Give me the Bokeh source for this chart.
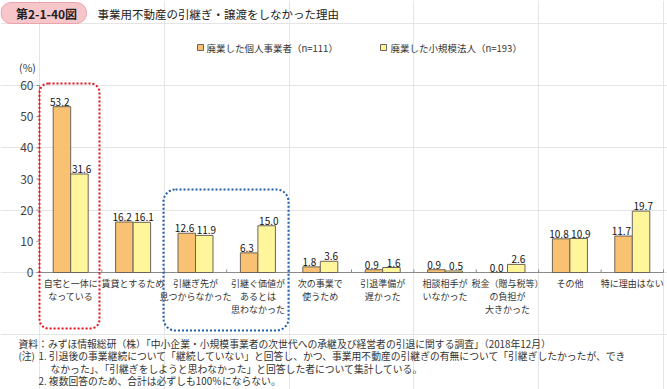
from bokeh.plotting import figure
from bokeh.models import Range1d, BoxAnnotation, ColumnDataSource
from bokeh.transform import dodge
from bokeh.core.properties import value
from bokeh.embed import file_html
from bokeh.resources import INLINE

# ---------------- data ----------------
categories = [
    "自宅と一体に\nなっている",
    "賃貸とするため",
    "引継ぎ先が\n見つからなかった",
    "引継ぐ価値が\nあるとは\n思わなかった",
    "次の事業で\n使うため",
    "引退準備が\n遅かった",
    "相談相手が\nいなかった",
    "税金（贈与税等）\nの負担が\n大きかった",
    "その他",
    "特に理由はない",
]
individual = [53.2, 16.2, 12.6, 6.3, 1.8, 0.9, 0.9, 0.0, 10.8, 11.7]
corporate = [31.6, 16.1, 11.9, 15.0, 3.6, 1.6, 0.5, 2.6, 10.9, 19.7]
series_names = ["廃業した個人事業者（n=111）", "廃業した小規模法人（n=193）"]
y_ticks = [0, 10, 20, 30, 40, 50, 60]
y_max = 60

figure_no = "第2-1-40図"
title_text = "事業用不動産の引継ぎ・譲渡をしなかった理由"
unit_text = "(%)"
notes = [
    "資料：みずほ情報総研（株）「中小企業・小規模事業者の次世代への承継及び経営者の引退に関する調査」（2018年12月）",
    "(注)",
    "1. 引退後の事業継続について「継続していない」と回答し、かつ、事業用不動産の引継ぎの有無について「引継ぎしたかったが、でき",
    "なかった」、「引継ぎをしようと思わなかった」と回答した者について集計している。",
    "2. 複数回答のため、合計は必ずしも100％にならない。",
]

# ---------------- style ----------------
FONT = "Noto Sans CJK JP"
ORANGE = "#F9C272"
YELLOW = "#FFF59B"
EDGE = "#6E6357"
TXT = "#333333"
AXIS = "#8A8A8A"
RED = "#E5121B"
BLUE = "#1F5DAE"

W, H = 667, 389
AX_L, AX_R = 39, 663      # pixel extent of the category axis
Y60, Y0 = 85, 272         # pixel rows of y=60 and y=0
n = len(categories)
cat_px = (AX_R - AX_L) / n
px_y = y_max / (Y0 - Y60)   # data units per pixel (vertical)


def X(px):
    return (px - AX_L) / cat_px


def Y(py):
    return y_max - (py - Y60) * px_y


p = figure(
    width=W, height=H, title=None,
    x_range=Range1d(X(0), X(W)),
    y_range=Range1d(Y(H), Y(0)),
    x_axis_location=None, y_axis_location=None,
    output_backend="svg", toolbar_location=None,
    min_border_left=0, min_border_right=0, min_border_top=0, min_border_bottom=0,
)
p.outline_line_color = None
p.background_fill_color = "white"
p.border_fill_color = "white"

# category slot centres on the x scale
xc = [i + 0.5 for i in range(n)]

# ---------------- axes ----------------
p.segment(x0=[0], y0=[0], x1=[0], y1=[y_max], line_color=AXIS, line_width=1)
p.segment(x0=0, y0=y_ticks, x1=-3 / cat_px, y1=y_ticks, line_color=AXIS, line_width=1)
p.text(x=-6 / cat_px, y=y_ticks, text=[str(t) for t in y_ticks],
       text_font=value(FONT), text_font_size="12px", text_color="#444444",
       text_align="right", text_baseline="middle")
p.segment(x0=[0], y0=[0], x1=[n], y1=[0], line_color=AXIS, line_width=1)
bounds = list(range(1, n + 1))
p.segment(x0=bounds, y0=0, x1=bounds, y1=3 * px_y, line_color=AXIS, line_width=1)

# ---------------- bars ----------------
BW = 17.5 / cat_px
src = ColumnDataSource(dict(
    xc=xc, cat=categories, ind=individual, corp=corporate,
    ind_txt=[f"{v:.1f}" for v in individual],
    corp_txt=[f"{v:.1f}" for v in corporate],
))
p.vbar(x=dodge("xc", -BW / 2), top="ind", width=BW,
       fill_color=ORANGE, line_color=EDGE, line_width=1, source=src)
p.vbar(x=dodge("xc", BW / 2), top="corp", width=BW,
       fill_color=YELLOW, line_color=EDGE, line_width=1, source=src)

nudge = 0.035
common = dict(text_font=value(FONT), text_font_size="10px", text_color="#111111",
              text_align="center", text_baseline="bottom", y_offset=-1, source=src)
p.text(x=dodge("xc", -BW / 2 - nudge), y="ind", text="ind_txt", **common)
p.text(x=dodge("xc", BW / 2 + nudge), y="corp", text="corp_txt", **common)

# category labels
p.text(x="xc", y=Y(276), text="cat", source=src, text_font=value(FONT),
       text_font_size="9px", text_color=TXT, text_align="center",
       text_baseline="top", text_line_height=1.0)

# ---------------- highlight boxes ----------------
p.add_layout(BoxAnnotation(left=X(39), right=X(99), top=Y(83), bottom=Y(328),
                           fill_color=None, fill_alpha=0, line_color=RED, line_alpha=1,
                           line_width=2, line_dash="2 2", border_radius=9))
p.add_layout(BoxAnnotation(left=X(163), right=X(288), top=Y(189), bottom=Y(330),
                           fill_color=None, fill_alpha=0, line_color=BLUE, line_alpha=1,
                           line_width=2, line_dash="2 2", border_radius=12))

# ---------------- legend ----------------
p.scatter(x=[X(200), X(383)], y=Y(47), marker="square", size=6,
          fill_color=[ORANGE, YELLOW], line_color=EDGE, line_width=1)
p.text(x=[X(206), X(390)], y=Y(47), text=series_names, text_font=value(FONT),
       text_font_size="9.5px", text_color=TXT, text_align="left", text_baseline="middle")

# ---------------- title ----------------
p.add_layout(BoxAnnotation(left=X(0.5), right=X(86), top=Y(2), bottom=Y(23),
                           fill_color="#F7C6CB", fill_alpha=1, line_color="#E9A3AB",
                           line_alpha=1, line_width=1, border_radius=10,
                           level="underlay"))
p.text(x=[X(46)], y=Y(12.5), text=[figure_no], text_font=value(FONT),
       text_font_size="12px", text_font_style="bold", text_color="#222222",
       text_align="center", text_baseline="middle")
p.text(x=[X(97)], y=Y(13), text=[title_text], text_font=value(FONT),
       text_font_size="11.5px", text_color="#222222", text_align="left",
       text_baseline="middle")

# unit
p.text(x=[X(27)], y=Y(67), text=[unit_text], text_font=value(FONT),
       text_font_size="10.5px", text_color=TXT, text_align="center",
       text_baseline="middle")

# ---------------- notes ----------------
note_x = [18, 18, 38, 50, 38]
note_y = [343, 355.5, 355.5, 368, 380.5]
p.text(x=[X(v) for v in note_x], y=[Y(v) for v in note_y], text=notes,
       text_font=value(FONT), text_font_size="9.8px", text_color=TXT,
       text_align="left", text_baseline="middle")

open("out.html", "w").write(file_html(p, INLINE))
